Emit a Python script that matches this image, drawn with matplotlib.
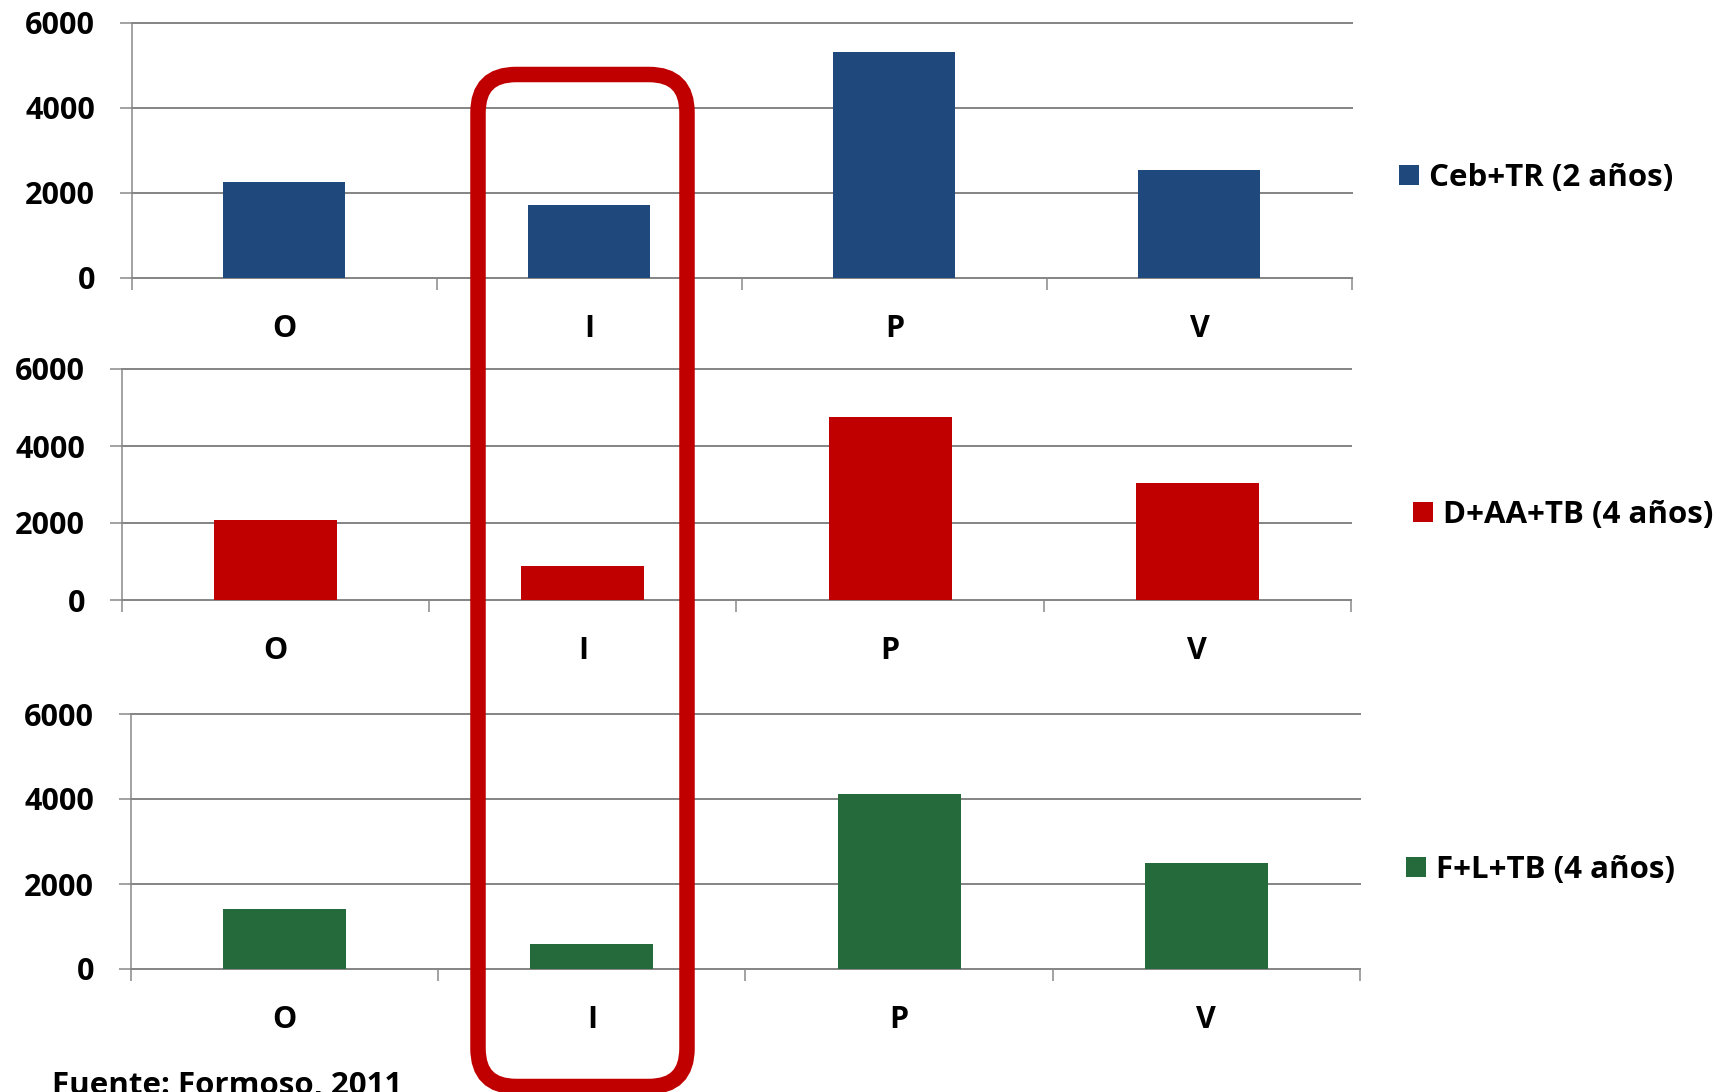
import matplotlib
matplotlib.use("Agg")
import matplotlib.pyplot as plt
from matplotlib.patches import FancyBboxPatch
from matplotlib.ticker import FixedLocator

plt.rcParams['font.family'] = ['Open Sans', 'DejaVu Sans']
plt.rcParams['font.weight'] = 'bold'

# Data
categories = ['O', 'I', 'P', 'V']
series_names = ['Ceb+TR (2 años)', 'D+AA+TB (4 años)', 'F+L+TB (4 años)']
ceb_tr = [2250, 1700, 5300, 2530]
d_aa_tb = [2080, 880, 4750, 3050]
f_l_tb = [1410, 600, 4110, 2490]
y_ticks = [0, 2000, 4000, 6000]
source_note = 'Fuente: Formoso, 2011'

series_values = [ceb_tr, d_aa_tb, f_l_tb]
series_colors = ['#1F497D', '#C00000', '#246A3B']

W, H = 1724, 1092
DPI = 100
fig = plt.figure(figsize=(W / DPI, H / DPI), dpi=DPI)
fig.patch.set_facecolor('white')

# panel frames in pixels: (left, right, top of 6000, bottom at 0)
frames = [(132, 1352, 22.7, 277.7),
          (122, 1351, 369, 600),
          (131, 1360, 714, 969)]
# legend anchors in pixels: (left of swatch, vertical centre)
legend_pos = [(1399, 178), (1413, 515), (1406, 870)]

GRID = '#878787'
FS = 22
FS_LEG = 22.5
px = 72.0 / DPI

for (x0, x1, yt, yb), vals, name, col, (lx, ly) in zip(
        frames, series_values, series_names, series_colors, legend_pos):
    ax = fig.add_axes([x0 / W, 1 - yb / H, (x1 - x0) / W, (yb - yt) / H])
    xs = [i + 0.5 for i in range(len(categories))]
    bars = ax.bar(xs, vals, width=0.4, color=col, label=name, zorder=3)
    ax.set_xlim(0, len(categories))
    ax.set_ylim(0, 6000)

    ax.set_yticks(y_ticks)
    ax.set_yticklabels([str(t) for t in y_ticks], fontsize=FS, fontweight='bold')
    ax.yaxis.grid(True, color=GRID, linewidth=2.0 * px, zorder=0)
    for gl in ax.get_ygridlines():
        gl.set_clip_on(False)
    ax.tick_params(axis='y', length=12 * px, width=1.5 * px, color=GRID,
                   pad=25 * px, direction='out')

    ax.set_xticks(xs)
    ax.set_xticklabels(categories, fontsize=FS, fontweight='bold')
    ax.xaxis.set_minor_locator(FixedLocator(list(range(len(categories) + 1))))
    ax.tick_params(axis='x', which='major', length=0, pad=36 * px)
    ax.tick_params(axis='x', which='minor', length=12 * px, width=1.5 * px,
                   color=GRID, direction='out')

    for s in ('top', 'right'):
        ax.spines[s].set_visible(False)
    for s in ('left', 'bottom'):
        ax.spines[s].set_color(GRID)
        ax.spines[s].set_linewidth(1.5 * px)
    ax.set_facecolor('none')

    ax.legend(handles=[bars], labels=[name], loc='center left',
              bbox_to_anchor=(lx / W, 1 - ly / H),
              bbox_transform=fig.transFigure, frameon=False,
              prop={'size': FS_LEG, 'weight': 'bold'},
              handlelength=0.65, handleheight=0.65, handletextpad=0.3,
              borderpad=0, borderaxespad=0)

fig.text(52 / W, -2.5 / H, source_note, fontsize=FS_LEG, fontweight='bold',
         ha='left', va='baseline')

# rounded frame highlighting category I across the three panels
ov = fig.add_axes([0, 0, 1, 1], zorder=10)
ov.set_xlim(0, W)
ov.set_ylim(H, 0)
ov.axis('off')
ov.patch.set_alpha(0)
ov.add_patch(FancyBboxPatch((478, 74.5), 209, 1012,
                            boxstyle='round,pad=0,rounding_size=38',
                            fill=False, edgecolor='#C00000',
                            linewidth=15.5 * px, clip_on=False))

fig.savefig('out.png', dpi=DPI, facecolor='white')
